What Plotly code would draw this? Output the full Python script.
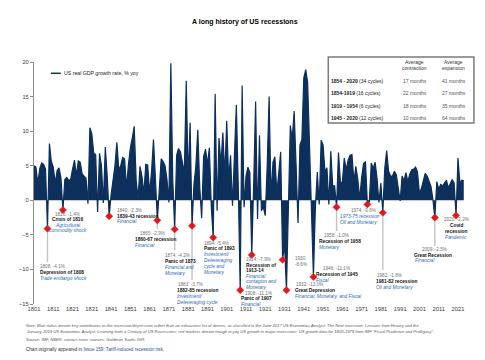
import plotly.graph_objects as go

# ---------------- data ----------------
years = list(range(1801, 2025))
gdp_growth = [
    # 1801-1810
    5.0, 4.8, 2.4, 4.6, 5.4, 5.2, 4.5, -4.1, 8.2, 5.6,
    # 1811-1820
    4.8, 2.5, 4.3, 4.7, 3.2, -1.4, 3.0, 3.3, 2.9, 3.0,
    # 1821-1830
    4.5, 5.8, 3.6, 5.7, 5.5, 3.8, 3.5, 3.2, -0.5, 10.5,
    # 1831-1840
    9.6, 6.8, 6.6, -1.7, 6.8, 5.0, -0.4, 7.7, 3.5, -2.3,
    # 1841-1850
    0.8, 2.8, 5.0, 8.4, 4.4, 5.0, 6.2, 6.0, 1.8, 5.2,
    # 1851-1860
    7.6, 9.0, 10.7, 3.0, 0.2, 4.9, 3.5, 1.0, 5.2, 5.1,
    # 1861-1870
    1.0, 4.2, 8.8, 3.2, -2.9, 1.5, 6.0, 5.6, 5.0, 3.0,
    # 1871-1880
    -0.3, 19.8, 3.0, -4.2, 6.5, 7.5, 7.0, 5.5, 4.0, 17.3,
    # 1881-1890
    3.0, 11.2, -3.7, 2.3, 5.0, 10.2, 2.0, -2.6, 6.3, 7.4,
    # 1891-1900
    5.2, 7.6, -1.0, -5.4, 15.4, -1.5, 9.0, 5.2, 9.8, 3.5,
    # 1901-1910
    11.5, 3.0, 6.5, -0.8, 5.5, 13.8, 2.0, -13.0, 16.6, -1.0,
    # 1911-1920
    3.5, 4.8, 4.0, -7.9, 2.5, 14.3, -2.7, 9.4, -1.5, -1.0,
    # 1921-1930
    -2.2, 5.0, 15.0, 0.5, 5.5, 6.3, 1.0, 4.0, 7.0, -8.6,
    # 1931-1940
    -6.4, -13.0, -1.2, 10.8, 8.9, 12.9, 5.1, -3.3, 8.0, 8.8,
    # 1941-1950
    17.7, 18.9, 17.0, 8.0, -1.0, -11.1, -1.1, 4.1, -0.6, 8.7,
    # 1951-1960
    8.0, 4.1, 4.7, -0.6, 7.1, 2.1, 2.1, -1.0, 6.9, 2.6,
    # 1961-1970
    2.6, 6.1, 4.4, 5.8, 6.5, 6.6, 2.7, 4.9, 3.1, 0.2,
    # 1971-1980
    3.3, 5.3, 5.6, -0.6, -0.2, 5.4, 4.6, 5.5, 3.2, -0.3,
    # 1981-1990
    2.5, -1.8, 4.6, 7.2, 4.2, 3.5, 3.5, 4.2, 3.7, 1.9,
    # 1991-2000
    -0.1, 3.5, 2.8, 4.0, 2.7, 3.8, 4.4, 4.5, 4.8, 4.1,
    # 2001-2010
    1.0, 1.7, 2.8, 3.9, 3.5, 2.8, 2.0, 0.1, -2.5, 2.7,
    # 2011-2020
    1.6, 2.3, 2.1, 2.5, 2.9, 1.8, 2.5, 3.0, 2.5, -2.2,
    # 2021-2024
    6.1, 2.5, 2.9, 2.8,
]

trough_years = [1808, 1816, 1840, 1865, 1874, 1883, 1894, 1908, 1914,
                1930, 1932, 1946, 1958, 1974, 1982, 2009, 2020]
trough_labels = ["1808: -4.1%", "1816: -1.4%", "1840: -2.3%", "1865: -2.9%",
                 "1874: -4.2%", "1883: -3.7%", "1894: -5.4%", "1908: -11.1%",
                 "1914: -7.9%", "1930:|-8.6%", "1932: -13.0%", "1946: -11.1%",
                 "1958: -1.0%", "1974: -0.6%", "1982: -1.8%", "2009: -2.5%",
                 "2020: -2.2%"]
recession_names = {
    1808: ["Depression of 1808"],
    1816: ["Crisis of 1816"],
    1840: ["1839-43 recession"],
    1865: ["1860-67 recession"],
    1874: ["Panic of 1873"],
    1883: ["1882-85 recession"],
    1894: ["Panic of 1893"],
    1908: ["Panic of 1907"],
    1914: ["Recession of", "1913-14"],
    1930: [],
    1932: ["Great Depression"],
    1946: ["Recession of 1945"],
    1958: ["Recession of 1958"],
    1974: [],
    1982: ["1981-82 recession"],
    2009: ["Great Recession"],
    2020: ["Covid", "recession"],
}
drivers = {
    1808: ["Trade embargo shock"],
    1816: ["Agricultural", "commodity shock"],
    1840: ["Financial"],
    1865: ["Financial"],
    1874: ["Financial and", "Monetary"],
    1883: ["Investment/", "Deleveraging cycle"],
    1894: ["Investment/", "Deleveraging", "cycle and", "Monetary"],
    1908: ["Financial"],
    1914: ["Financial", "contagion and", "Monetary"],
    1930: [],
    1932: ["Financial, Monetary, and Fiscal"],
    1946: ["Fiscal"],
    1958: ["Monetary"],
    1974: ["1973-75 recession", "Oil and Monetary"],
    1982: ["Oil and Monetary"],
    2009: ["Financial"],
    2020: ["Pandemic"],
}

table_periods = ["1854 - 2020", "1854-1919", "1919 - 1954", "1945 - 2020"]
table_cycles = ["(34 cycles)", "(16 cycles)", "(6 cycles)", "(12 cycles)"]
table_contraction = ["17 months", "22 months", "18 months", "10 months"]
table_expansion = ["41 months", "27 months", "35 months", "64 months"]

xtick_years = list(range(1801, 2022, 10))

# ---------------- layout helpers ----------------
# page body has an 8px margin, so the figure is shifted by 8px on screen
OFF = 8
W, H = 485 - 2 * OFF, 360 - 2 * OFF
# plot area in screen pixels
PL, PR, PT, PB = 30, 466, 62, 304
YMIN, YMAX = -15, 20
FONT = "Liberation Sans, Arial, sans-serif"
NAVY = "#0c2f5c"
BLUE = "#2a6cb5"
RED = "#e3161b"


def px(x):
    return (x - PL) / (PR - PL)


def py(y):
    return (PB - y) / (PB - PT)


def yval(ypix):
    return YMAX - (ypix - PT) / (PB - PT) * (YMAX - YMIN)


gdp_of = dict(zip(years, gdp_growth))

fig = go.Figure()

fig.add_trace(go.Scatter(
    x=years, y=gdp_growth, mode="lines",
    line=dict(color=NAVY, width=1.2),
    fill="tozeroy", fillcolor=NAVY,
    showlegend=False, hoverinfo="skip",
))

# leader lines (from trough down to label)
leader_end_pix = {1808: 262, 1865: 229, 1874: 250, 1883: 280,
                  1958: 231, 1982: 270, 2009: 246}
for yr, yend in leader_end_pix.items():
    fig.add_trace(go.Scatter(
        x=[yr, yr], y=[gdp_of[yr], yval(yend)], mode="lines",
        line=dict(color="#c4c4c4", width=1.4),
        showlegend=False, hoverinfo="skip",
    ))

fig.add_trace(go.Scatter(
    x=trough_years, y=[gdp_of[y] for y in trough_years], mode="markers",
    marker=dict(symbol="diamond", size=5.5, color=RED,
                line=dict(color=RED, width=0.5)),
    showlegend=False, hoverinfo="skip",
))

annotations = []


def txt(x, y, text, size=5, color="#000000", anchor="left"):
    annotations.append(dict(
        x=px(x), y=py(y), xref="paper", yref="paper", text=text,
        showarrow=False, xanchor=anchor, yanchor="middle",
        font=dict(family=FONT, size=size, color=color),
    ))


# label block placement (screen pixels): x_left per line, first line y, spacing
block_pos = {
    1808: dict(x=[34, 34, 34], y0=266, dy=6),
    1816: dict(x=[64, 64, 64, 64], y0=214, dy=5.6, anchor="center"),
    1840: dict(x=[112, 112, 112], y0=210.5, dy=5.6),
    1865: dict(x=[135, 130, 130], y0=233.5, dy=6),
    1874: dict(x=[160, 160, 160, 160], y0=255, dy=6),
    1883: dict(x=[173, 172, 172, 172], y0=284.5, dy=6),
    1894: dict(x=[200, 200, 200, 200, 200, 200], y0=243, dy=5.8),
    1908: dict(x=[241, 237, 237], y0=293, dy=5.5),
    1914: dict(x=[242, 242, 242, 242, 242, 242], y0=259.5, dy=5.5),
    1930: dict(x=[291, 291], y0=258, dy=6.3),
    1932: dict(x=[292, 291, 291], y0=284, dy=6.3),
    1946: dict(x=[320, 313, 313], y0=268.5, dy=6.2),
    1958: dict(x=[321, 316, 316], y0=235.5, dy=6),
    1974: dict(x=[348, 337, 337], y0=210.5, dy=5.8),
    1982: dict(x=[374, 373, 373], y0=275, dy=6),
    2009: dict(x=[420, 412, 413], y0=249.5, dy=5.6),
    2020: dict(x=[456, 456, 456, 456], y0=219.5, dy=5.9, anchor="center"),
}

for yr, lab in zip(trough_years, trough_labels):
    lines = [(s, "val") for s in lab.split("|")]
    lines += [(s, "name") for s in recession_names[yr]]
    lines += [(s, "drv") for s in drivers[yr]]
    pos = block_pos[yr]
    anchor = pos.get("anchor", "left")
    for i, (s, kind) in enumerate(lines):
        xx = pos["x"][min(i, len(pos["x"]) - 1)]
        yy = pos["y0"] + i * pos["dy"]
        if kind == "val":
            txt(xx, yy, s, size=4.6, color="#6f6f6f", anchor=anchor)
        elif kind == "name":
            txt(xx, yy, "<b>" + s + "</b>", size=4.8, color="#111111", anchor=anchor)
        else:
            txt(xx, yy, "<i>" + s + "</i>", size=4.8, color=BLUE, anchor=anchor)

# title
txt(242.5, 22, "<b>A long history of US recessions</b>", size=7, anchor="center")

# legend (manual)
txt(58, 73.3, "US real GDP growth rate, % yoy", size=5.2, color="#222222")

# table
row_y = [80.7, 93.3, 105.9, 118.1]
txt(414.5, 61.5, "Average", size=5, color="#333333", anchor="center")
txt(414.5, 68.3, "contraction", size=5, color="#333333", anchor="center")
txt(453.5, 61.5, "Average", size=5, color="#333333", anchor="center")
txt(453.5, 68.3, "expansion", size=5, color="#333333", anchor="center")
for ry, per, cyc, con, exp_ in zip(row_y, table_periods, table_cycles,
                                   table_contraction, table_expansion):
    txt(328, ry, "<b>" + per + "</b> " + cyc, size=5, color="#222222")
    txt(415, ry, con, size=5, color="#555555", anchor="center")
    txt(453.5, ry, exp_, size=5, color="#555555", anchor="center")

# notes
note1 = ("Note: Blue italics denote key contributors to the recession/depression rather than an "
         "exhaustive list of drivers, as classified in the June 2017 US Economics Analyst: "
         "The Next recession: Lessons from History and the")
note2 = ("January 2019 US Economics Analyst: Learning from a Century of US Recessions; red markers "
         "denote trough in yoy US growth in major recessions; US growth data for 1800-1979 from IMF "
         "\"Fiscal Prudence and Profligacy\".")
note3 = "Source: IMF, NBER, various news sources, Goldman Sachs GIR."
txt(20, 325, "<i>" + note1 + "</i>", size=4.15, color="#595959")
txt(20, 331.5, "<i>" + note2 + "</i>", size=4.15, color="#595959")
txt(20, 339.5, "<i>" + note3 + "</i>", size=4.15, color="#595959")
txt(20, 349, "Chart originally appeared in "
    "<span style='color:#1f4e96'><u>Issue 159: Tariff-induced recession risk</u></span>.",
    size=4.6, color="#333333")

shapes = [
    dict(type="rect", xref="paper", yref="paper",
         x0=px(327), x1=px(474), y0=py(123), y1=py(57),
         line=dict(color="#7a7a7a", width=1.5), fillcolor="white", layer="above"),
    dict(type="line", xref="paper", yref="paper",
         x0=px(47), x1=px(57), y0=py(73.3), y1=py(73.3),
         line=dict(color=NAVY, width=1.5)),
]

fig.update_layout(
    width=W, height=H,
    margin=dict(l=PL - OFF, r=W - (PR - OFF), t=PT - OFF, b=H - (PB - OFF)),
    paper_bgcolor="white", plot_bgcolor="white",
    font=dict(family=FONT, size=6, color="#404040"),
    showlegend=False,
    annotations=annotations,
    shapes=shapes,
    xaxis=dict(range=[1801, 1801 + (PR - PL) / 1.945], tickvals=xtick_years,
               ticktext=[str(v) for v in xtick_years], showgrid=False,
               zeroline=False, showline=False, ticks="",
               tickfont=dict(size=5.8, color="#404040")),
    yaxis=dict(range=[YMIN, YMAX], dtick=5, showgrid=False, zeroline=False,
               showline=True, linecolor="#8c8c8c", linewidth=1,
               ticks="outside", ticklen=3, tickcolor="#8c8c8c",
               tickfont=dict(size=5.8, color="#404040")),
)

fig.write_html("out.html")
